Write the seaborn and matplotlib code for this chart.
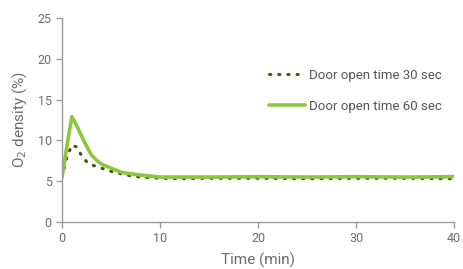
import numpy as np
import pandas as pd
import matplotlib.pyplot as plt
import seaborn as sns

# time (min) and O2 density (%)
time_30 = [0, 0.5, 1.0, 1.5, 2.0, 2.5, 3.0, 3.5, 4.0, 5.0, 6.0, 7.0, 8.0, 10.0, 12.0, 15.0, 20.0, 25.0, 30.0, 35.0, 40.0]
o2_30 = [5.5, 8.0, 9.4, 9.2, 8.1, 7.4, 7.0, 6.8, 6.6, 6.2, 5.9, 5.65, 5.5, 5.35, 5.3, 5.35, 5.35, 5.3, 5.35, 5.35, 5.3]

time_60 = [0, 0.5, 1.0, 1.5, 2.0, 2.5, 3.0, 3.5, 4.0, 5.0, 6.0, 7.0, 8.0, 10.0, 12.0, 15.0, 20.0, 25.0, 30.0, 35.0, 40.0]
o2_60 = [5.5, 9.3, 12.9, 11.8, 10.5, 9.3, 8.2, 7.6, 7.1, 6.6, 6.1, 5.9, 5.75, 5.5, 5.5, 5.5, 5.55, 5.5, 5.55, 5.5, 5.55]

labels = ["Door open time 30 sec", "Door open time 60 sec"]

df = pd.concat([
    pd.DataFrame({"time": time_30, "o2": o2_30, "series": labels[0]}),
    pd.DataFrame({"time": time_60, "o2": o2_60, "series": labels[1]}),
])

sns.set_theme(style="white")
plt.rcParams['font.family'] = ['Roboto', 'DejaVu Sans']

fig = plt.figure(figsize=(4.63, 2.69), dpi=100)
ax = fig.add_axes([0.134, 0.175, 0.847, 0.758])

gray = "#6b6b6b"
sns.lineplot(data=df[df.series == labels[0]], x="time", y="o2", ax=ax,
             color="#3d5c00", linestyle=(0, (0.4, 2.6)), linewidth=2.2,
             dash_capstyle="round", label=labels[0])
sns.lineplot(data=df[df.series == labels[1]], x="time", y="o2", ax=ax,
             color="#8cc63f", linewidth=2.6, label=labels[1])

ax.set_xlim(0, 40)
ax.set_ylim(0, 25)
ax.set_xticks([0, 10, 20, 30, 40])
ax.set_yticks([0, 5, 10, 15, 20, 25])
ax.set_xlabel("Time (min)", fontsize=11, color=gray, labelpad=5)
ax.set_ylabel("O$_2$ density (%)", fontsize=11, color=gray, labelpad=6)

for side in ["top", "right"]:
    ax.spines[side].set_visible(False)
for side in ["left", "bottom"]:
    ax.spines[side].set_color("#9a9a9a")
    ax.spines[side].set_linewidth(1)
ax.tick_params(axis="both", which="both", direction="out", length=4, width=1,
               color="#9a9a9a", labelcolor=gray, labelsize=9, bottom=True, left=True)

leg = ax.legend(loc="upper right", bbox_to_anchor=(1.0, 0.81), frameon=False,
                fontsize=9.5, labelspacing=1.4, handlelength=2.8, handletextpad=0.3)
for t in leg.get_texts():
    t.set_color("#555555")

fig.savefig("out.png", dpi=100)
